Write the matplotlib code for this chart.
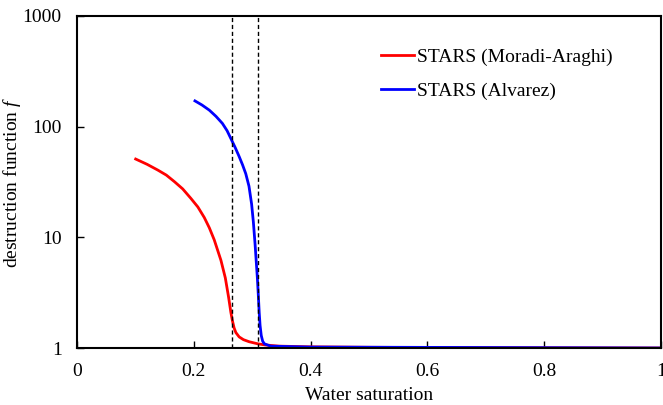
import matplotlib
matplotlib.use("Agg")
import matplotlib.pyplot as plt
from matplotlib.ticker import FixedLocator, NullLocator, FixedFormatter

plt.rcParams['font.family'] = ['Liberation Serif', 'DejaVu Serif']
plt.rcParams['mathtext.fontset'] = 'custom'
plt.rcParams['mathtext.it'] = 'Liberation Serif:italic'
plt.rcParams['mathtext.rm'] = 'Liberation Serif'

# Destruction function vs water saturation
sw_moradi = [0.1005, 0.12, 0.1385, 0.153, 0.167, 0.181, 0.195, 0.207, 0.218, 0.2266,
             0.235, 0.2465, 0.254, 0.2595, 0.2635, 0.266, 0.269, 0.272, 0.2777,
             0.285, 0.2947, 0.31, 0.323, 0.346, 0.40, 0.5, 0.6, 0.8, 1.0]
f_moradi = [51, 45.7, 40.5, 36.5, 31.8, 27.4, 22.5, 18.8, 15.1, 12.2,
            9.5, 6.2, 4.3, 2.9, 2.1, 1.78, 1.52, 1.38, 1.26,
            1.19, 1.14, 1.09, 1.065, 1.04, 1.025, 1.015, 1.01, 1.005, 1.0]

sw_alvarez = [0.202, 0.214, 0.2266, 0.238, 0.249, 0.257, 0.2646, 0.271, 0.2777,
              0.2835, 0.289, 0.2945, 0.299, 0.302, 0.305, 0.307, 0.309, 0.3105,
              0.312, 0.3135, 0.3155, 0.318, 0.321, 0.3317, 0.4, 1.0]
f_alvarez = [171, 157, 141, 124, 107, 92, 76, 64.6, 53.7,
             45.2, 37.6, 29, 20, 13.8, 8.6, 6.0, 4.2, 3.0,
             2.1, 1.6, 1.3, 1.15, 1.09, 1.04, 1.02, 1.0]

critical_sw = [0.265, 0.310]

x_ticks = [0, 0.2, 0.4, 0.6, 0.8, 1.0]
x_tick_labels = ['0', '0.2', '0.4', '0.6', '0.8', '1']
y_ticks = [1, 10, 100, 1000]
y_tick_labels = ['1', '10', '100', '1000']

fig = plt.figure(figsize=(6.63, 4.05), dpi=100)
ax = fig.add_axes([0.1161, 0.1407, 0.8809, 0.8198])

ax.plot(sw_moradi, f_moradi, color='#ff0000', lw=2.0, label='STARS (Moradi-Araghi)')
ax.plot(sw_alvarez, f_alvarez, color='#0000ff', lw=2.0, label='STARS (Alvarez)')
for xc in critical_sw:
    ax.axvline(xc, color='black', lw=1.0, ls=(0, (3, 2)))

ax.set_yscale('log')
ax.set_xlim(0, 1)
ax.set_ylim(1, 1000)
ax.xaxis.set_major_locator(FixedLocator(x_ticks))
ax.xaxis.set_major_formatter(FixedFormatter(x_tick_labels))
ax.yaxis.set_major_locator(FixedLocator(y_ticks))
ax.yaxis.set_major_formatter(FixedFormatter(y_tick_labels))
ax.yaxis.set_minor_locator(NullLocator())
ax.xaxis.set_minor_locator(NullLocator())
ax.tick_params(direction='in', length=5, width=1, labelsize=14)
ax.tick_params(axis='x', pad=11)
ax.tick_params(axis='y', pad=11)

for s in ax.spines.values():
    s.set_linewidth(1.5)

ax.set_xlabel('Water saturation', fontsize=14, labelpad=5)
ax.set_ylabel('destruction function $f$', fontsize=14)
ax.yaxis.set_label_coords(-0.092, 0.5)

ax.legend(loc='upper left', bbox_to_anchor=(0.49, 0.955), frameon=False, fontsize=14,
          handlelength=1.7, handletextpad=0.15, labelspacing=0.85)

fig.savefig('out.png', dpi=100)
